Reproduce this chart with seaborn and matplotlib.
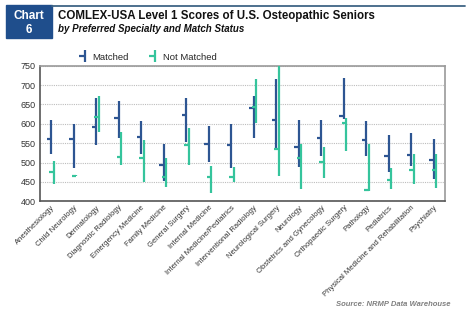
import numpy as np
import pandas as pd
import matplotlib
matplotlib.use("Agg")
import matplotlib.pyplot as plt
from matplotlib.lines import Line2D
from matplotlib.path import Path
from matplotlib.patches import Rectangle
from matplotlib.transforms import ScaledTranslation
import seaborn as sns

# specialties in chart order
specialties = ["Anesthesiology", "Child Neurology", "Dermatology", "Diagnostic Radiology",
               "Emergency Medicine", "Family Medicine", "General Surgery", "Internal Medicine",
               "Internal Medicine/Pediatrics", "Interventional Radiology", "Neurological Surgery",
               "Neurology", "Obstetrics and Gynecology", "Orthopaedic Surgery", "Pathology",
               "Pediatrics", "Physical Medicine and Rehabilitation", "Psychiatry"]

# matched applicants: low, high, mean
matched_low = [522, 485, 546, 563, 521, 453, 552, 502, 487, 564, 538, 489, 517, 613, 517, 475, 492, 458]
matched_high = [611, 600, 666, 658, 608, 549, 666, 595, 599, 672, 716, 610, 610, 718, 606, 571, 576, 560]
matched_mean = [562, 562, 591, 615, 565, 493, 624, 548, 545, 641, 611, 541, 563, 620, 558, 517, 519, 506]

# not matched applicants: low, high, mean
unmatched_low = [445, 465, 580, 493, 449, 436, 493, 422, 450, 603, 466, 433, 461, 530, 427, 431, 444, 434]
unmatched_high = [505, 468, 671, 578, 558, 511, 590, 492, 489, 716, 750, 548, 541, 616, 548, 485, 521, 521]
unmatched_mean = [475, 466, 617, 514, 511, 463, 545, 462, 463, 644, 536, 511, 502, 601, 428, 455, 480, 480]

df = pd.concat([
    pd.DataFrame({"Specialty": specialties, "Status": "Matched", "low": matched_low,
                  "high": matched_high, "mean": matched_mean}),
    pd.DataFrame({"Specialty": specialties, "Status": "Not Matched", "low": unmatched_low,
                  "high": unmatched_high, "mean": unmatched_mean}),
])

sns.set_theme(style="white")
plt.rcParams['font.family'] = ['Liberation Sans', 'DejaVu Sans']

palette = {"Matched": "#2D5592", "Not Matched": "#35C49C"}
offsets = {"Matched": 0.0, "Not Matched": 0.1}

fig = plt.figure(figsize=(4.74, 3.16), dpi=100)
ax = fig.add_axes([40 / 474, 1 - 201.3 / 316, 405 / 474, 135.6 / 316])

pos = {s: i for i, s in enumerate(specialties)}
for status, grp in df.groupby("Status"):
    x = grp["Specialty"].map(pos).to_numpy() + offsets[status]
    ax.vlines(x, grp["low"], grp["high"], color=palette[status], lw=1.6, zorder=3)
    ax.hlines(grp["mean"], x - 0.2, x + 0.02, color=palette[status], lw=1.6, zorder=3)

ax.set_xlim(-0.5, len(specialties) - 0.5)
ax.set_ylim(400, 750)
ax.set_yticks(np.arange(400, 751, 50))
ax.set_xticks(range(len(specialties)))
ax.set_xticklabels(specialties, rotation=45, ha="right", rotation_mode="anchor", fontsize=5.5,
                   color="#333333")
# nudge the rotated labels a little to the right, as in the original
shift = ScaledTranslation(4 / 100, 0, fig.dpi_scale_trans)
for lab in ax.get_xticklabels():
    lab.set_transform(lab.get_transform() + shift)
ax.tick_params(axis="y", labelsize=6.5, colors="#333333", length=0, pad=3)
ax.tick_params(axis="x", length=0, pad=2)
ax.grid(axis="y", color="#bdbdbd", linestyle=(0, (1, 1)), lw=0.8)
for side in ["left", "bottom"]:
    ax.spines[side].set_color("#555555")
    ax.spines[side].set_linewidth(1.2)
for side in ["top", "right"]:
    ax.spines[side].set_color("#9a9a9a")
    ax.spines[side].set_linewidth(1.2)

# legend glyph: vertical bar with a tick on the left
glyph = Path([(0, -1), (0, 1), (-0.9, 0), (0, 0)],
             [Path.MOVETO, Path.LINETO, Path.MOVETO, Path.LINETO])
handles = [Line2D([], [], color=palette[k], marker=glyph, markersize=9, markeredgewidth=1.6,
                  linestyle="none", label=k) for k in ["Matched", "Not Matched"]]
fig.legend(handles=handles, loc="center", bbox_to_anchor=(148 / 474, 1 - 57 / 316), ncol=2,
           frameon=False, fontsize=6.8, handletextpad=0.2, columnspacing=2.2, handlelength=1.2)

# header
fig.patches.append(Rectangle((6 / 474, 1 - 38 / 316), 46 / 474, 33 / 316,
                             transform=fig.transFigure, color="#1F4E8C", zorder=0))
fig.add_artist(Line2D([52 / 474, 465 / 474], [1 - 6 / 316, 1 - 6 / 316],
                      transform=fig.transFigure, color="#3F6585", lw=1.3))
fig.text(29 / 474, 1 - 16 / 316, "Chart", color="white", fontsize=8.5, fontweight="bold",
         ha="center", va="center")
fig.text(29 / 474, 1 - 30 / 316, "6", color="white", fontsize=8.5, fontweight="bold",
         ha="center", va="center")
fig.text(58 / 474, 1 - 16.5 / 316, "COMLEX-USA Level 1 Scores of U.S. Osteopathic Seniors",
         fontsize=8.3, fontweight="bold", color="#111111", ha="left", va="center")
fig.text(58 / 474, 1 - 29 / 316, "by Preferred Specialty and Match Status",
         fontsize=7, fontweight="bold", fontstyle="italic", color="#111111", ha="left", va="center")
fig.text(451 / 474, 1 - 305 / 316, "Source: NRMP Data Warehouse", fontsize=5.5,
         fontweight="bold", fontstyle="italic", color="#808080", ha="right", va="center")

fig.savefig("out.png", dpi=100)
